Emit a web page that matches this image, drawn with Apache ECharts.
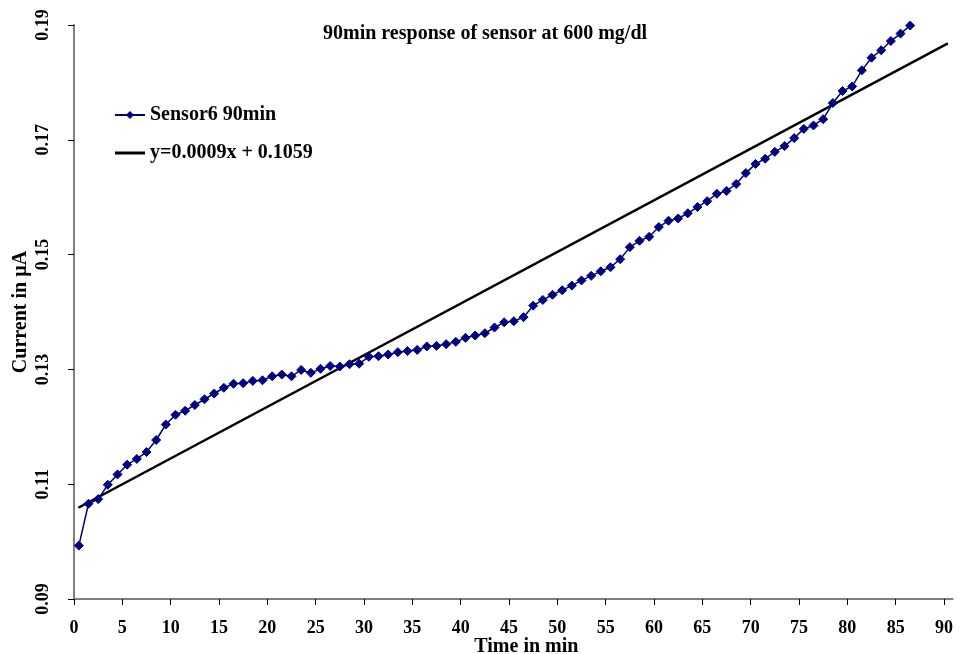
<!DOCTYPE html>
<html>
<head>
<meta charset="utf-8">
<script src="https://cdn.jsdelivr.net/npm/echarts@6/dist/echarts.min.js"></script>
<style>
html,body{margin:0;padding:0;background:#fff;}
#chart{width:960px;height:654px;}
</style>
</head>
<body>
<div id="chart"></div>
<script>
var timeMin = [0.5,1.5,2.5,3.5,4.5,5.5,6.5,7.5,8.5,9.5,10.5,11.5,12.5,13.5,14.5,15.5,16.5,17.5,18.5,19.5,
  20.5,21.5,22.5,23.5,24.5,25.5,26.5,27.5,28.5,29.5,30.5,31.5,32.5,33.5,34.5,35.5,36.5,37.5,38.5,39.5,
  40.5,41.5,42.5,43.5,44.5,45.5,46.5,47.5,48.5,49.5,50.5,51.5,52.5,53.5,54.5,55.5,56.5,57.5,58.5,59.5,
  60.5,61.5,62.5,63.5,64.5,65.5,66.5,67.5,68.5,69.5,70.5,71.5,72.5,73.5,74.5,75.5,76.5,77.5,78.5,79.5,
  80.5,81.5,82.5,83.5,84.5,85.5,86.5];
var sensorCurrent = [0.0993,0.1066,0.1074,0.1099,0.1117,0.1134,0.1144,0.1156,0.1177,0.1204,
  0.1221,0.1228,0.1238,0.1248,0.1258,0.1268,0.1275,0.1276,0.1280,0.1281,
  0.1288,0.1291,0.1288,0.1299,0.1294,0.1301,0.1306,0.1305,0.1309,0.1310,
  0.1322,0.1323,0.1326,0.1330,0.1332,0.1334,0.1340,0.1341,0.1344,0.1348,
  0.1355,0.1359,0.1363,0.1373,0.1382,0.1384,0.1391,0.1411,0.1421,0.1430,
  0.1438,0.1446,0.1455,0.1463,0.1471,0.1478,0.1492,0.1513,0.1524,0.1531,
  0.1548,0.1559,0.1563,0.1572,0.1583,0.1593,0.1606,0.1611,0.1623,0.1642,
  0.1658,0.1667,0.1679,0.1689,0.1703,0.1719,0.1725,0.1736,0.1764,0.1785,
  0.1793,0.1821,0.1843,0.1856,0.1872,0.1885,0.1899];
var trendX = [0.45, 90.4];
var trendY = [0.1059, 0.1868];
var xTicks = [0,5,10,15,20,25,30,35,40,45,50,55,60,65,70,75,80,85,90];
var yTicks = [0.09,0.11,0.13,0.15,0.17,0.19];
var titleText = '90min response of sensor at 600 mg/dl';
var seriesNames = ['Sensor6 90min', 'y=0.0009x + 0.1059'];

var FONT = '"Liberation Serif","Times New Roman",serif';
var chart = echarts.init(document.getElementById('chart'), null, {renderer:'canvas'});
var sensorData = timeMin.map(function(t,i){return [t, sensorCurrent[i]];});
var trendData = trendX.map(function(t,i){return [t, trendY[i]];});

chart.setOption({
  backgroundColor:'#ffffff',
  animation:false,
  title:{
    text:titleText, left:323, top:24, padding:0,
    textStyle:{fontFamily:FONT, fontWeight:'bold', fontSize:20, color:'#000'}
  },
  legend:{
    orient:'vertical', left:109, top:100, itemGap:18, itemWidth:30, itemHeight:10,
    textStyle:{fontFamily:FONT, fontWeight:'bold', fontSize:20, color:'#000'},
    data:[
      {name:seriesNames[0]},
      {name:seriesNames[1], icon:'path://M0,0L30,0L30,3L0,3Z', itemStyle:{color:'#000'}}
    ]
  },
  grid:{left:74, right:7.3, top:25, bottom:55, containLabel:false, outerBoundsMode:'none'},
  xAxis:{
    type:'value', min:0, max:90.9,
    name:'Time in min', nameLocation:'middle', nameGap:38, nameMoveOverlap:false,
    nameTextStyle:{fontFamily:FONT, fontWeight:'bold', fontSize:20, color:'#000', padding:[0,0,0,26]},
    axisLine:{lineStyle:{color:'#808080', width:2}},
    axisTick:{show:true, inside:false, length:6, lineStyle:{color:'#000', width:1}, customValues:xTicks},
    axisLabel:{customValues:xTicks, margin:20, fontFamily:FONT, fontWeight:'bold', fontSize:18, color:'#000'},
    splitLine:{show:false}
  },
  yAxis:{
    type:'value', min:0.09, max:0.19, interval:0.02,
    name:'Current in µA', nameLocation:'middle', nameGap:43, nameRotate:90, nameMoveOverlap:false,
    nameTextStyle:{fontFamily:FONT, fontWeight:'bold', fontSize:20, color:'#000'},
    axisLine:{show:true, lineStyle:{color:'#808080', width:2}},
    axisTick:{show:true, inside:false, length:6, lineStyle:{color:'#000', width:1}, customValues:yTicks},
    axisLabel:{customValues:yTicks, rotate:90, margin:22, fontFamily:FONT, fontWeight:'bold', fontSize:18, color:'#000',
      formatter:function(v){return v.toFixed(2);}},
    splitLine:{show:false}
  },
  series:[
    {
      name:seriesNames[0], type:'line', data:sensorData,
      symbol:'diamond', symbolSize:9, showSymbol:true,
      lineStyle:{color:'#000080', width:1.5},
      itemStyle:{color:'#000080', borderColor:'#000080'},
      z:3
    },
    {
      name:seriesNames[1], type:'line', data:trendData,
      symbol:'none', showSymbol:false,
      lineStyle:{color:'#000000', width:2.5},
      itemStyle:{color:'#000000'},
      z:2
    }
  ]
});
</script>
</body>
</html>
